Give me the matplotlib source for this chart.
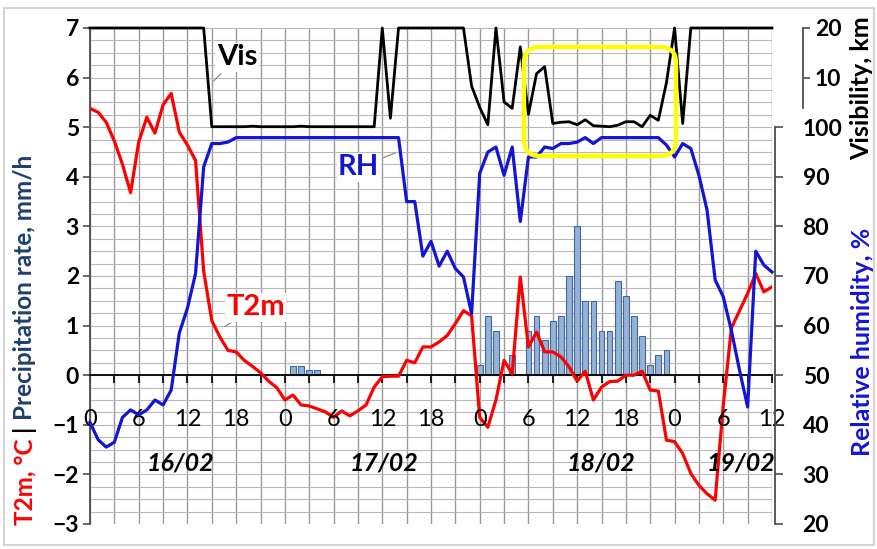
import numpy as np
import matplotlib
matplotlib.use("Agg")
import matplotlib.pyplot as plt
from matplotlib.patches import FancyBboxPatch, Rectangle

# ---- data -------------------------------------------------------------
hours = np.arange(0, 85)

t2m = [5.38, 5.30, 5.10, 4.72, 4.25, 3.68, 4.70, 5.20, 4.88, 5.45,
       5.68, 4.90, 4.64, 4.33, 2.10, 1.10, 0.77, 0.50, 0.47, 0.30,
       0.18, 0.05, -0.12, -0.25, -0.50, -0.40, -0.60, -0.62, -0.68, -0.74,
       -0.85, -0.72, -0.82, -0.72, -0.60, -0.24, -0.03, -0.02, -0.02, 0.30,
       0.25, 0.57, 0.57, 0.67, 0.80, 1.04, 1.30, 1.20, -0.85, -1.05,
       -0.50, 0.30, 0.03, 1.98, 0.57, 0.87, 0.47, 0.47, 0.37, 0.17,
       -0.12, 0.08, -0.50, -0.24, -0.13, -0.12, 0.00, 0.00, 0.08, -0.30,
       -0.32, -1.31, -1.34, -1.58, -1.98, -2.22, -2.39, -2.52, -0.60, 0.95,
       1.30, 1.65, 2.05, 1.68, 1.78]

rh = [40.5, 37.0, 35.5, 36.5, 41.5, 43.0, 42.0, 43.0, 45.0, 44.0,
      47.0, 58.5, 63.5, 70.5, 92.0, 96.7, 96.7, 97.0, 97.9, 97.9,
      97.9, 97.9, 97.9, 97.9, 97.9, 97.9, 97.9, 97.9, 97.9, 97.9,
      97.9, 97.9, 97.9, 97.9, 97.9, 97.9, 97.9, 97.9, 97.9, 85.0,
      85.0, 74.0, 77.0, 72.0, 75.0, 71.5, 69.8, 62.4, 90.7, 95.0,
      96.0, 90.3, 96.0, 81.0, 94.0, 94.0, 96.0, 95.7, 96.7, 96.7,
      97.0, 97.9, 96.7, 97.9, 97.9, 97.9, 97.9, 97.9, 97.9, 97.9,
      97.9, 96.4, 94.0, 96.7, 95.7, 90.3, 83.3, 69.2, 65.8, 59.0,
      51.0, 43.6, 75.0, 72.2, 70.8]

vis = [20, 20, 20, 20, 20, 20, 20, 20, 20, 20,
       20, 20, 20, 20, 20, 0.1, 0.1, 0.1, 0.1, 0.1,
       0.2, 0.1, 0.1, 0.1, 0.1, 0.1, 0.2, 0.1, 0.1, 0.1,
       0.1, 0.1, 0.1, 0.1, 0.1, 0.1, 20, 1.8, 20, 20,
       20, 20, 20, 20, 20, 20, 20, 8.3, 4.0, 0.5,
       20, 5.1, 3.8, 16.2, 2.6, 10.8, 12.2, 0.75, 1.0, 1.1,
       0.5, 1.5, 0.3, 0.2, 0.1, 0.4, 1.1, 1.1, 0.1, 2.4,
       1.4, 9.0, 20, 0.75, 20, 20, 20, 20, 20, 20,
       20, 20, 20, 20, 20]

precip_hours = [25, 26, 27, 28, 48, 49, 50, 52, 54, 55, 56, 57, 58, 59,
                60, 61, 62, 63, 64, 65, 66, 67, 68, 69, 70, 71]
precip_rate = [0.18, 0.18, 0.1, 0.1, 0.2, 1.2, 0.9, 0.4, 0.9, 1.2, 0.7, 1.1,
               1.2, 2.0, 3.0, 1.5, 1.5, 0.9, 0.9, 1.9, 1.6, 1.2, 0.8, 0.2,
               0.4, 0.5]

hour_ticks = np.arange(0, 85, 6)
hour_labels = [str(h % 24) for h in hour_ticks]
day_labels = ["16/02", "17/02", "18/02", "19/02"]
day_pos = [11.2, 36.2, 63.0, 80.2]

# ---- styling ----------------------------------------------------------
plt.rcParams["font.family"] = ["Lato", "DejaVu Sans"]
RED = "#FF0000"
BLUE = "#1414D4"
NAVY = "#1F3F6E"
SPINE = "#4D4D4D"

W, H = 877, 549
fig = plt.figure(figsize=(W / 100, H / 100), dpi=100)
fig.patch.set_facecolor("white")

# outer frame
fig.patches.append(Rectangle((4 / W, 4 / H), 870 / W, 537 / H,
                             transform=fig.transFigure, fill=False,
                             edgecolor="#D4D4D4", lw=1.5))

ax = fig.add_axes([90 / W, 25 / H, 682 / W, 496 / H])
ax.set_xlim(0, 84)
ax.set_ylim(-3, 7)
ax.set_facecolor("none")

ax.set_xticks(np.arange(0, 85, 3))
ax.set_yticks(np.arange(-3, 8, 1))
ax.set_yticks(np.arange(-3, 7.01, 0.25), minor=True)
ax.grid(True, axis="x", which="major", color="#9A9A9A", lw=1.0)
ax.grid(True, axis="y", which="both", color="#B8B8B8", lw=0.8)
ax.set_axisbelow(True)

for s in ("top", "right"):
    ax.spines[s].set_visible(False)
ax.spines["bottom"].set_position(("data", 0))
ax.spines["bottom"].set_color("black")
ax.spines["bottom"].set_linewidth(1.3)
ax.spines["left"].set_color(SPINE)
ax.spines["left"].set_linewidth(1.3)
ax.tick_params(axis="x", direction="out", length=6, width=1.2,
               color="black", labelbottom=False)
ax.tick_params(axis="y", which="major", direction="out", length=5,
               width=1.2, color=SPINE, labelsize=16.5, pad=3)
ax.tick_params(axis="y", which="minor", length=0)
for lbl in ax.get_yticklabels():
    lbl.set_fontweight("bold")

# precipitation bars and temperature
ax.bar(precip_hours, precip_rate, width=0.7, color="#95B3D7",
       edgecolor="#41679C", lw=0.8, zorder=2)
ax.plot(hours, t2m, color=RED, lw=2.3, zorder=3, solid_joinstyle="round")

# hour and day labels inside the plot
for h, lab in zip(hour_ticks, hour_labels):
    ax.text(h, -0.9, lab, ha="center", va="center", fontsize=17,
            color="black", zorder=4)
for p, lab in zip(day_pos, day_labels):
    ax.text(p, -1.77, lab, ha="center", va="center", fontsize=18,
            fontweight="bold", fontstyle="italic", zorder=4)

# relative humidity axis
ax_rh = ax.twinx()
ax_rh.set_ylim(20, 120)
for s in ("top", "left", "bottom"):
    ax_rh.spines[s].set_visible(False)
ax_rh.spines["right"].set_position(("outward", 2))
ax_rh.spines["right"].set_bounds(20, 100)
ax_rh.spines["right"].set_color(SPINE)
ax_rh.spines["right"].set_linewidth(1.3)
ax_rh.set_yticks(np.arange(20, 101, 10))
ax_rh.tick_params(axis="y", direction="out", length=6, width=1.2,
                  color=SPINE, labelsize=16.5, pad=14)
for lbl in ax_rh.get_yticklabels():
    lbl.set_fontweight("bold")
ax_rh.plot(hours, rh, color=BLUE, lw=2.3, zorder=3, solid_joinstyle="round",
           clip_on=False)

# visibility axis
ax_vis = ax.twinx()
ax_vis.set_ylim(-80, 20)
for s in ("top", "left", "bottom"):
    ax_vis.spines[s].set_visible(False)
ax_vis.spines["right"].set_position(("outward", 22))
ax_vis.spines["right"].set_bounds(3.8, 20)
ax_vis.spines["right"].set_color(SPINE)
ax_vis.spines["right"].set_linewidth(1.3)
ax_vis.set_yticks([10, 20])
ax_vis.tick_params(axis="y", direction="out", length=5, width=1.2,
                   color=SPINE, labelsize=16.5, pad=4)
for lbl in ax_vis.get_yticklabels():
    lbl.set_fontweight("bold")
ax_vis.plot(hours, vis, color="black", lw=2.0, zorder=3,
            solid_joinstyle="round", clip_on=False)

# series labels with leader lines
lead = dict(arrowstyle="-", color="#7F7F7F", lw=0.8)
box = dict(boxstyle="square,pad=0.05", fc="white", ec="none")
ax.annotate("Vis", xy=(15.0, 5.89), xytext=(18.1, 6.41), fontsize=21,
            fontweight="bold", color="black", ha="center", va="center",
            bbox=box, arrowprops=lead, zorder=6)
ax.annotate("RH", xy=(37.9, 4.5), xytext=(33.1, 4.19), fontsize=21,
            fontweight="bold", color=BLUE, ha="center", va="center",
            bbox=box, arrowprops=lead, zorder=6)
ax.annotate("T2m", xy=(16.3, 0.95), xytext=(20.4, 1.37), fontsize=21,
            fontweight="bold", color=RED, ha="center", va="center",
            bbox=box, arrowprops=lead, zorder=6)

# highlight box around the low-visibility period
fig.patches.append(FancyBboxPatch((524 / 100, (H - 156) / 100), 152 / 100,
                                  109 / 100,
                                  boxstyle="round,pad=0,rounding_size=0.16",
                                  transform=fig.dpi_scale_trans, fill=False,
                                  edgecolor="#FFFF00", lw=3.2, zorder=10))

# axis titles
renderer = fig.canvas.get_renderer()
y_px = 24
for txt, col in (("T2m, °C ", RED), ("| ", "black"),
                 ("Precipitation rate, mm/h", NAVY)):
    t = fig.text(25 / W, y_px / H, txt, rotation=90, rotation_mode="anchor",
                 ha="left", va="center", fontsize=17.5, fontweight="bold",
                 color=col)
    y_px += t.get_window_extent(renderer).height

fig.text(862 / W, (H - 88) / H, "Visibility, km", rotation=90, ha="center",
         va="center", fontsize=18, fontweight="bold", color="black")
fig.text(862 / W, (H - 342) / H, "Relative humidity, %", rotation=90,
         ha="center", va="center", fontsize=18, fontweight="bold", color=BLUE)

fig.savefig("out.png", dpi=100)
